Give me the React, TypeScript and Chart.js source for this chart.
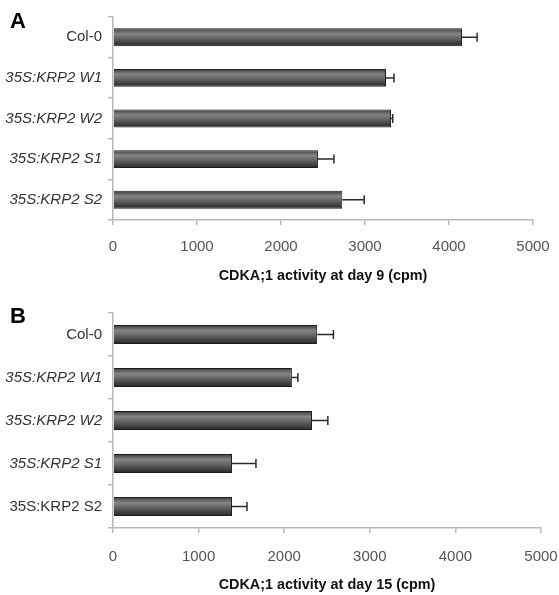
import React, { useEffect, useRef } from "react";
import { Chart, registerables } from "chart.js";

Chart.register(...registerables);

const categories = ["Col-0", "35S:KRP2 W1", "35S:KRP2 W2", "35S:KRP2 S1", "35S:KRP2 S2"];
const italicA = [false, true, true, true, true];
const italicB = [false, true, true, true, false];
const day9Values = [4155, 3250, 3310, 2440, 2730];
const day9Errors = [180, 95, 20, 190, 260];
const day15Values = [2385, 2090, 2325, 1390, 1390];
const day15Errors = [190, 70, 185, 280, 175];
const xMin = 0;
const xMax = 5000;
const xStep = 1000;
const titleA = "CDKA;1 activity at day 9 (cpm)";
const titleB = "CDKA;1 activity at day 15 (cpm)";

const FONT = "Arial, 'Liberation Sans', sans-serif";

type PanelProps = {
  values: number[];
  errors: number[];
  italic: boolean[];
  title: string;
  width: number;
  height: number;
  padTop: number;
  padRight: number;
  axisHeight: number;
  tickPad: number;
  titlePadBottom: number;
};

function Panel(p: PanelProps) {
  const ref = useRef<HTMLCanvasElement | null>(null);
  useEffect(() => {
    if (!ref.current) return;
    const errorBars = {
      id: "errbars",
      afterDatasetsDraw(chart: any) {
        const meta = chart.getDatasetMeta(0);
        const xs = chart.scales.x;
        const ctx = chart.ctx;
        ctx.save();
        ctx.strokeStyle = "#2a2a2a";
        ctx.lineWidth = 1.5;
        meta.data.forEach((el: any, i: number) => {
          const v = chart.data.datasets[0].data[i];
          const x0 = el.x;
          const x1 = xs.getPixelForValue(v + p.errors[i]);
          const y = el.y;
          ctx.beginPath();
          ctx.moveTo(x0, y);
          ctx.lineTo(x1, y);
          ctx.moveTo(x1, y - 4.5);
          ctx.lineTo(x1, y + 4.5);
          ctx.stroke();
        });
        ctx.restore();
      },
    };
    const chart = new Chart(ref.current, {
      type: "bar",
      data: {
        labels: categories,
        datasets: [
          {
            data: p.values,
            backgroundColor: (c: any) => {
              const ch = c.chart;
              const ys = ch.scales && ch.scales.y;
              if (!ys || c.dataIndex === undefined || !ys.height) return "#555";
              const yc = ys.getPixelForValue(c.dataIndex);
              if (!isFinite(yc)) return "#555";
              const h = (ys.height / categories.length) * 0.44;
              const g = ch.ctx.createLinearGradient(0, yc - h / 2, 0, yc + h / 2);
              g.addColorStop(0, "#3a3a3a");
              g.addColorStop(0.3, "#858585");
              g.addColorStop(0.55, "#646464");
              g.addColorStop(1, "#262626");
              return g;
            },
            borderColor: "#1e1e1e",
            borderWidth: 1,
            categoryPercentage: 0.8,
            barPercentage: 0.55,
          },
        ],
      },
      options: {
        indexAxis: "y",
        responsive: false,
        animation: false,
        layout: { padding: { top: p.padTop, right: p.padRight, left: 0, bottom: 0 } },
        plugins: { legend: { display: false }, tooltip: { enabled: false } },
        scales: {
          y: {
            type: "category",
            afterFit: (s: any) => {
              s.width = 113;
            },
            grid: { drawOnChartArea: false, tickLength: 5, color: "#b8b8b8", offset: true, lineWidth: 1.5 },
            border: { color: "#b8b8b8", width: 1.5 },
            ticks: {
              padding: 6,
              color: "#333",
              font: (ctx: any) => ({
                family: FONT,
                size: 15,
                style: p.italic[ctx.index] ? "italic" : "normal",
              }),
            },
          },
          x: {
            type: "linear",
            min: xMin,
            max: xMax,
            afterFit: (s: any) => {
              s.height = p.axisHeight;
              s.paddingRight = 0;
              s.paddingLeft = 0;
            },
            grid: { drawOnChartArea: false, tickLength: 5, color: "#b8b8b8", lineWidth: 1.5 },
            border: { color: "#b8b8b8", width: 1.5 },
            ticks: {
              stepSize: xStep,
              padding: p.tickPad,
              color: "#555",
              font: { family: FONT, size: 15 },
              maxRotation: 0,
              callback: (v: any) => String(v),
            },
            title: {
              display: true,
              text: p.title,
              color: "#111",
              font: { family: FONT, size: 14.4, weight: "bold" },
              padding: { top: 0, bottom: p.titlePadBottom },
            },
          },
        },
      },
      plugins: [errorBars],
    } as any);
    return () => chart.destroy();
  }, []);
  return <canvas ref={ref} width={p.width} height={p.height} style={{ display: "block", width: p.width, height: p.height }} />;
}

export default function App() {
  const letter: React.CSSProperties = {
    position: "absolute",
    left: 10,
    fontFamily: FONT,
    fontWeight: "bold",
    fontSize: 22,
    lineHeight: "22px",
    color: "#000",
  };
  return (
    <div style={{ position: "absolute", left: 0, top: 0, width: 559, height: 595, background: "#fff" }}>
      <div style={{ position: "absolute", left: 0, top: 0 }}>
        <Panel
          values={day9Values}
          errors={day9Errors}
          italic={italicA}
          title={titleA}
          width={559}
          height={290}
          padTop={17}
          padRight={26}
          axisHeight={70}
          tickPad={13}
          titlePadBottom={5}
        />
      </div>
      <div style={{ position: "absolute", left: 0, top: 290 }}>
        <Panel
          values={day15Values}
          errors={day15Errors}
          italic={italicB}
          title={titleB}
          width={559}
          height={305}
          padTop={23}
          padRight={18}
          axisHeight={67}
          tickPad={15}
          titlePadBottom={1}
        />
      </div>
      <div style={{ ...letter, top: 10 }}>A</div>
      <div style={{ ...letter, top: 305 }}>B</div>
    </div>
  );
}
